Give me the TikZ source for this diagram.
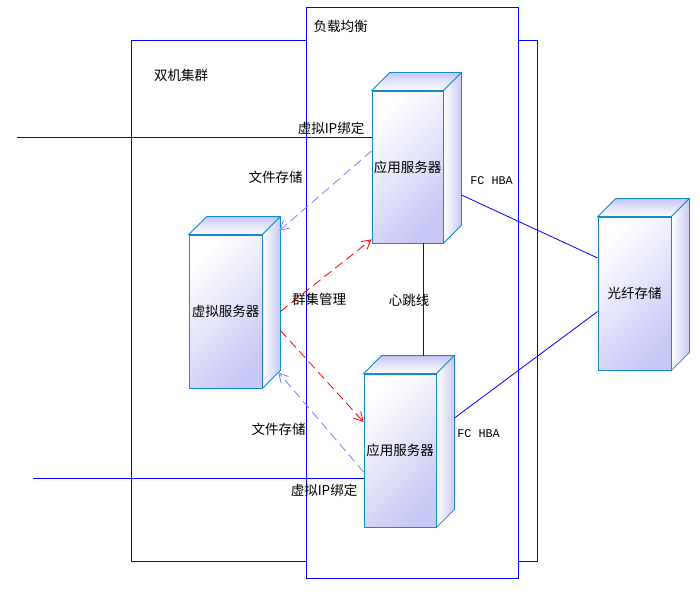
\documentclass[tikz,border=0pt]{standalone}
\usepackage{fontspec}
\setmainfont{Noto Sans CJK SC}
\newfontfamily\monofont{Liberation Mono}
\usetikzlibrary{positioning, arrows.meta, calc}
\definecolor{frameblue}{RGB}{0,0,255}
\definecolor{devedge}{RGB}{20,140,200}
\definecolor{devlav}{RGB}{200,200,246}
\definecolor{fileblue}{RGB}{128,128,255}
\definecolor{mgmtred}{RGB}{255,0,0}

\begin{document}
\begin{tikzpicture}[x=1pt, y=-1pt,
    every node/.style={font=\fontsize{13.5}{16}\selectfont, inner sep=0pt},
    frame/.style={draw=frameblue, line width=0.9pt},
    device/.style={draw=devedge, line width=0.8pt, top color=white, bottom color=devlav, shading angle=45},
    devtop/.style={draw=devedge, line width=0.8pt, top color=devlav, bottom color=white},
    devside/.style={draw=devedge, line width=0.8pt, left color=white, right color=devlav},
    link/.style={frameblue, line width=0.8pt},
    filelink/.style={fileblue, line width=0.8pt, dash pattern=on 9pt off 5pt, -{Straight Barb[length=9pt, width=10pt]}},
    mgmtlink/.style={mgmtred, line width=0.8pt, dash pattern=on 9pt off 5pt, -{Straight Barb[length=9pt, width=10pt]}},
    hba/.style={font=\monofont\fontsize{11.8}{14}\selectfont}]
  \useasboundingbox (0,0) rectangle (700,596);

  % cluster frames
  \node[frame, minimum width=406, minimum height=521] (cluster) at (334,300.5) {};
  \node[frame, fill=white, minimum width=212, minimum height=571] (lb) at (412,292.5) {};
  \node (clusterlbl) at (181,75) {双机集群};
  \node (lblbl) at (340.5,26) {负载均衡};

  % servers and storage
  \node[device, minimum width=71, minimum height=152] (app1) at (407.5,167) {应用服务器};
  \node[device, minimum width=72, minimum height=153] (app2) at (400,450.5) {应用服务器};
  \node[device, minimum width=73, minimum height=153] (vsrv) at (225.5,311.5) {虚拟服务器};
  \node[device, minimum width=73, minimum height=153] (store) at (634.5,293.5) {光纤存储};
  \foreach \n in {app1, app2, vsrv, store}{
    \draw[devtop] (\n.north west) -- ([shift={(18pt,18pt)}]\n.north west) -- ([shift={(18pt,18pt)}]\n.north east) -- (\n.north east) -- cycle;
    \draw[devside] (\n.north east) -- ([shift={(18pt,18pt)}]\n.north east) -- ([shift={(18pt,18pt)}]\n.south east) -- (\n.south east) -- cycle;
  }

  \node (vip1) at (331,128) {虚拟IP绑定};
  \node (vip2) at (324,490) {虚拟IP绑定};
  \node (fs1) at (275.5,177) {文件存储};
  \node (fs2) at (278.5,429) {文件存储};
  \node (mgmt) at (319,299) {群集管理};
  \node (hb) at (409,300) {心跳线};
  \node[hba] (hba1) at (491.5,181) {FC HBA};
  \node[hba] (hba2) at (478.5,434) {FC HBA};

  % connectors
  \coordinate (vipin1) at (17,137);
  \coordinate (vipin2) at (33,478);
  \draw[link] (vipin1) -- (vipin1 -| app1.west);
  \draw[link] (vipin2) -- (vipin2 -| app2.west);
  \draw[link] ([xshift=15.5pt]app1.south) -- ([xshift=23pt, yshift=18pt]app2.north);
  \draw[link] ([xshift=18pt, yshift=-28pt]app1.east) -- ([yshift=35.5pt]store.west);
  \draw[link] ([xshift=18pt, yshift=32.5pt]app2.east) -- ([yshift=-18pt]store.west);
  \draw[filelink] ([yshift=16pt]app1.west) -- ([xshift=17pt, yshift=4pt]vsrv.north east);
  \draw[mgmtlink] ([xshift=18pt]vsrv.east) -- ([yshift=4pt]app1.south west);
  \draw[mgmtlink] ([xshift=18pt, yshift=-19pt]vsrv.east) -- ([yshift=28.5pt]app2.west);
  \draw[filelink] ([yshift=-21.5pt]app2.west) -- ([xshift=16pt, yshift=16pt]vsrv.south east);
\end{tikzpicture}
\end{document}
